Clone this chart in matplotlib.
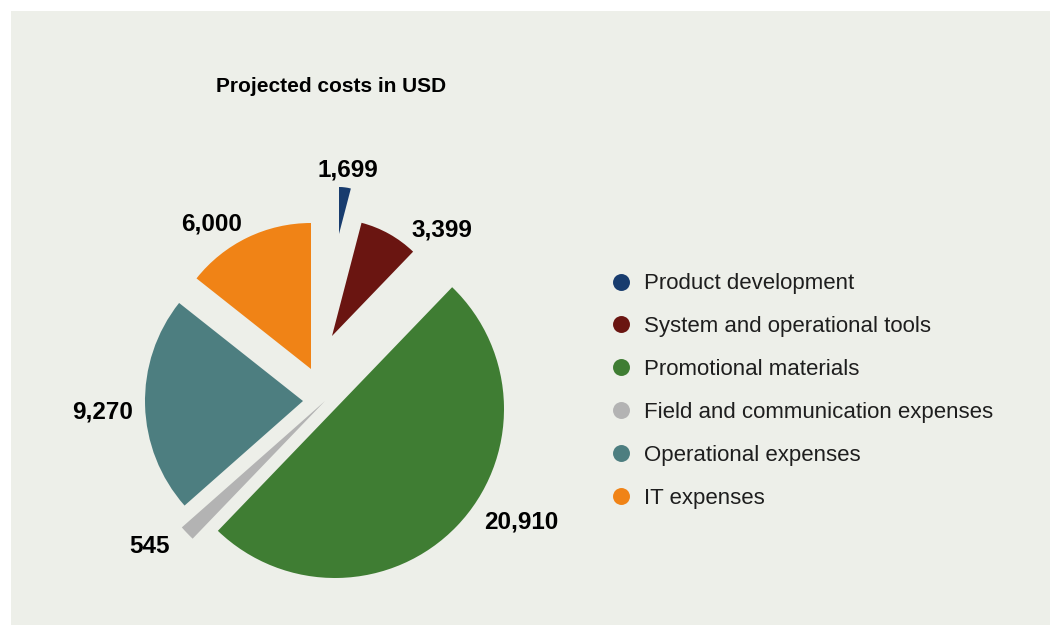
import matplotlib.pyplot as plt
from matplotlib.lines import Line2D
from matplotlib.patches import Rectangle

plt.rcParams['font.family'] = ['Liberation Sans', 'DejaVu Sans']

# data
categories = ["Product development", "System and operational tools", "Promotional materials",
              "Field and communication expenses", "Operational expenses", "IT expenses"]
costs = [1699, 3399, 20910, 545, 9270, 6000]
value_labels = ["1,699", "3,399", "20,910", "545", "9,270", "6,000"]

# styling / layout (pixels)
colors = ["#183c6e", "#6a1511", "#3f7d33", "#b3b3b3", "#4d7e80", "#f08316"]
radii = [47, 117, 169, 191, 158, 146]
shift = [(13, 166), (6, 64), (9, -9), (-1, -1), (-23, -1), (-15, 31)]
label_xy = [(348, 177), (442, 237), (521, 528), (150, 553), (103, 418), (212, 231)]
bg = "#edefe9"

W, H = 1050, 625
fig = plt.figure(figsize=(W / 100, H / 100), dpi=100)
fig.patch.set_facecolor("white")
ax = fig.add_axes([0, 0, 1, 1])

cx, cy = 326, H - 400
wedges, _ = ax.pie(costs, colors=colors, startangle=90, counterclock=False,
                   center=(cx, cy), radius=100, wedgeprops=dict(linewidth=0))
for w, r, (dx, dy) in zip(wedges, radii, shift):
    w.set_center((cx + dx, cy + dy))
    w.set_radius(r)

ax.set_xlim(0, W)
ax.set_ylim(0, H)
ax.set_aspect("equal")
ax.axis("off")
ax.add_patch(Rectangle((11, 0), W - 11, H - 11, facecolor=bg, edgecolor="none", zorder=0))

for txt, (x, y) in zip(value_labels, label_xy):
    ax.text(x, H - y, txt, ha="center", va="baseline", fontsize=17.5,
            fontweight="bold", color="black")

ax.text(331, H - 92, "Projected costs in USD", ha="center", va="baseline",
        fontsize=15, fontweight="bold", color="black")

handles = [Line2D([], [], marker="o", linestyle="none", markersize=12.2,
                  markerfacecolor=c, markeredgewidth=0) for c in colors]
ax.legend(handles, categories, loc="center left", bbox_to_anchor=(610 / W, 1 - 391 / H),
          frameon=False, fontsize=16, handlelength=1.0, handletextpad=0.55,
          labelspacing=0.985, borderpad=0, borderaxespad=0, labelcolor="#1e1e1e")

fig.savefig("out.png", dpi=100, facecolor=fig.get_facecolor())
